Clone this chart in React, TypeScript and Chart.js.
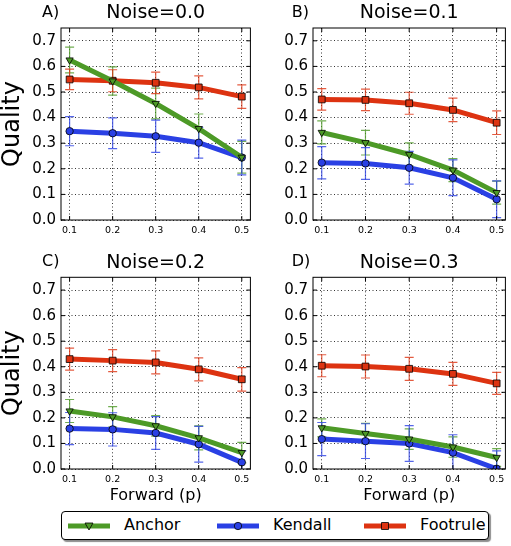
import React, { useEffect, useRef } from "react";
import { Chart, registerables } from "chart.js";

Chart.register(...registerables);
Chart.defaults.font.family = "'DejaVu Sans', sans-serif";
Chart.defaults.color = "#000";

// ---------- data ----------
const forwardP = [0.1, 0.2, 0.3, 0.4, 0.5];
const xTickValues = [0.1, 0.2, 0.3, 0.4, 0.5];
const yTickValues = [0.0, 0.1, 0.2, 0.3, 0.4, 0.5, 0.6, 0.7];
const seriesNames = ["Anchor", "Kendall", "Footrule"];
const panelLetters = ["A)", "B)", "C)", "D)"];
const noiseLabels = ["Noise=0.0", "Noise=0.1", "Noise=0.2", "Noise=0.3"];

// Noise = 0.0
const anchorN00 = [0.625, 0.543, 0.455, 0.357, 0.245];
const anchorErrN00 = [0.05, 0.055, 0.06, 0.057, 0.062];
const kendallN00 = [0.347, 0.339, 0.327, 0.302, 0.244];
const kendallErrN00 = [0.057, 0.06, 0.063, 0.06, 0.068];
const footruleN00 = [0.549, 0.544, 0.536, 0.518, 0.482];
const footruleErrN00 = [0.04, 0.043, 0.042, 0.045, 0.046];

// Noise = 0.1
const anchorN01 = [0.342, 0.302, 0.256, 0.195, 0.107];
const anchorErrN01 = [0.045, 0.048, 0.045, 0.045, 0.045];
const kendallN01 = [0.224, 0.221, 0.204, 0.165, 0.081];
const kendallErrN01 = [0.063, 0.062, 0.064, 0.07, 0.072];
const footruleN01 = [0.471, 0.469, 0.456, 0.43, 0.38];
const footruleErrN01 = [0.042, 0.042, 0.043, 0.046, 0.046];

// Noise = 0.2
const anchorN02 = [0.227, 0.204, 0.169, 0.122, 0.064];
const anchorErrN02 = [0.045, 0.04, 0.04, 0.047, 0.04];
const kendallN02 = [0.158, 0.155, 0.141, 0.097, 0.026];
const kendallErrN02 = [0.063, 0.065, 0.064, 0.07, 0.045];
const footruleN02 = [0.43, 0.424, 0.417, 0.39, 0.351];
const footruleErrN02 = [0.043, 0.043, 0.045, 0.045, 0.046];

// Noise = 0.3
const anchorN03 = [0.161, 0.139, 0.117, 0.086, 0.045];
const anchorErrN03 = [0.035, 0.04, 0.04, 0.04, 0.035];
const kendallN03 = [0.117, 0.109, 0.1, 0.064, 0.001];
const kendallErrN03 = [0.065, 0.068, 0.07, 0.07, 0.07];
const footruleN03 = [0.404, 0.401, 0.392, 0.372, 0.335];
const footruleErrN03 = [0.043, 0.045, 0.045, 0.045, 0.043];

const panelValues = [
  [anchorN00, kendallN00, footruleN00],
  [anchorN01, kendallN01, footruleN01],
  [anchorN02, kendallN02, footruleN02],
  [anchorN03, kendallN03, footruleN03],
];
const panelErrors = [
  [anchorErrN00, kendallErrN00, footruleErrN00],
  [anchorErrN01, kendallErrN01, footruleErrN01],
  [anchorErrN02, kendallErrN02, footruleErrN02],
  [anchorErrN03, kendallErrN03, footruleErrN03],
];

// ---------- styles ----------
const seriesColors = ["#4d9a27", "#2a40e4", "#dd3311"];
const seriesErrColors = ["rgba(77,154,39,0.8)", "rgba(42,64,228,0.8)", "rgba(221,51,17,0.8)"];
const seriesPointStyle = ["triangle", "circle", "rect"];
const seriesPointRadius = [4.2, 3.7, 4.8];
const seriesPointRotation = [180, 0, 0];

const FONT = "'DejaVu Sans', sans-serif";

const layouts = [
  { left: 0, top: 0, width: 256, height: 250, axisLeft: 61, padRight: 1, titlePad: { top: 2, bottom: 3.2 }, xAxisH: 30, yTitle: true, xTitle: false, letterX: 42, letterY: 13 },
  { left: 256, top: 0, width: 255, height: 250, axisLeft: 57, padRight: 2.5, titlePad: { top: 2, bottom: 3.2 }, xAxisH: 30, yTitle: false, xTitle: false, letterX: 35.7, letterY: 13 },
  { left: 0, top: 250, width: 256, height: 259, axisLeft: 61, padRight: 1, titlePad: { top: 1.5, bottom: 3 }, xAxisH: 40, yTitle: true, xTitle: true, letterX: 42, letterY: 11.7 },
  { left: 256, top: 250, width: 255, height: 259, axisLeft: 57, padRight: 2.5, titlePad: { top: 1.5, bottom: 3 }, xAxisH: 40, yTitle: false, xTitle: true, letterX: 35.7, letterY: 11.7 },
];

const errorBarPlugin = {
  id: "errorBars",
  beforeDatasetsDraw(chart: any) {
    const { ctx, chartArea, scales } = chart;
    ctx.save();
    ctx.beginPath();
    ctx.rect(chartArea.left, chartArea.top, chartArea.right - chartArea.left, chartArea.bottom - chartArea.top);
    ctx.clip();
    chart.data.datasets.forEach((ds: any) => {
      ctx.strokeStyle = ds.errColor;
      ctx.lineWidth = 1.2;
      ds.data.forEach((pt: any, j: number) => {
        const e = ds.errors[j];
        const x = scales.x.getPixelForValue(pt.x);
        const y1 = scales.y.getPixelForValue(pt.y + e);
        const y2 = scales.y.getPixelForValue(pt.y - e);
        ctx.beginPath();
        ctx.moveTo(x, y1);
        ctx.lineTo(x, y2);
        ctx.moveTo(x - 4.5, y1);
        ctx.lineTo(x + 4.5, y1);
        ctx.moveTo(x - 4.5, y2);
        ctx.lineTo(x + 4.5, y2);
        ctx.stroke();
      });
    });
    ctx.restore();
  },
};

const framePlugin = {
  id: "frame",
  afterDraw(chart: any) {
    const { ctx, chartArea, scales } = chart;
    const opts = chart.options.plugins.frame || {};
    ctx.save();
    ctx.strokeStyle = "#000";
    ctx.lineWidth = 1;
    ctx.strokeRect(chartArea.left, chartArea.top, chartArea.right - chartArea.left, chartArea.bottom - chartArea.top);
    ctx.beginPath();
    xTickValues.forEach((v) => {
      const x = scales.x.getPixelForValue(v);
      ctx.moveTo(x, chartArea.bottom);
      ctx.lineTo(x, chartArea.bottom - 4);
      ctx.moveTo(x, chartArea.top);
      ctx.lineTo(x, chartArea.top + 4);
    });
    yTickValues.forEach((v) => {
      const y = scales.y.getPixelForValue(v);
      ctx.moveTo(chartArea.left, y);
      ctx.lineTo(chartArea.left + 4, y);
      ctx.moveTo(chartArea.right, y);
      ctx.lineTo(chartArea.right - 4, y);
    });
    ctx.stroke();
    if (opts.letter) {
      ctx.fillStyle = "#000";
      ctx.font = `16px ${FONT}`;
      ctx.textBaseline = "middle";
      ctx.textAlign = "left";
      ctx.fillText(opts.letter, opts.letterX, opts.letterY);
    }
    ctx.restore();
  },
};

function makeConfig(p: number): any {
  const L = layouts[p];
  const datasets = seriesNames.map((name, s) => ({
    label: name,
    data: forwardP.map((x, j) => ({ x, y: panelValues[p][s][j] })),
    errors: panelErrors[p][s],
    errColor: seriesErrColors[s],
    borderColor: seriesColors[s],
    backgroundColor: seriesColors[s],
    borderWidth: 5,
    pointStyle: seriesPointStyle[s],
    pointRadius: seriesPointRadius[s],
    pointRotation: seriesPointRotation[s],
    pointBackgroundColor: seriesColors[s],
    pointBorderColor: "#000",
    pointBorderWidth: 0.8,
    tension: 0,
    clip: 0,
  }));
  return {
    type: "line",
    data: { datasets },
    options: {
      animation: false,
      responsive: false,
      events: [],
      layout: { padding: { left: 0, top: 0, right: L.padRight, bottom: 0 } },
      plugins: {
        legend: { display: false },
        tooltip: { enabled: false },
        title: {
          display: true,
          text: noiseLabels[p],
          fullSize: false,
          color: "#000",
          font: { size: 19, weight: "normal", family: FONT, lineHeight: 1.2 },
          padding: L.titlePad,
        },
        frame: { letter: panelLetters[p], letterX: L.letterX, letterY: L.letterY },
      },
      scales: {
        x: {
          type: "linear",
          min: 0.08,
          max: 0.52,
          z: 1,
          afterBuildTicks: (scale: any) => {
            scale.ticks = xTickValues.map((v) => ({ value: v }));
          },
          afterFit: (scale: any) => {
            scale.height = L.xAxisH;
          },
          grid: { color: "#000", lineWidth: 0.8, drawTicks: false },
          border: { display: false, dash: [1, 2.5] },
          ticks: {
            color: "#000",
            font: { size: 9.5, family: FONT },
            padding: 5,
            maxRotation: 0,
            autoSkip: false,
            callback: (v: any) => Number(v).toFixed(1),
          },
          title: {
            display: L.xTitle,
            text: "Forward (p)",
            color: "#000",
            font: { size: 16, family: FONT, lineHeight: 1.2 },
            padding: { top: 0, bottom: 4 },
          },
        },
        y: {
          type: "linear",
          min: 0,
          max: 0.75,
          z: 1,
          afterBuildTicks: (scale: any) => {
            scale.ticks = yTickValues.map((v) => ({ value: v }));
          },
          afterFit: (scale: any) => {
            scale.width = L.axisLeft;
          },
          grid: { color: "#000", lineWidth: 0.8, drawTicks: false },
          border: { display: false, dash: [1, 2.5] },
          ticks: {
            color: "#000",
            font: { size: 15, family: FONT },
            padding: 5,
            autoSkip: false,
            callback: (v: any) => Number(v).toFixed(1),
          },
          title: {
            display: L.yTitle,
            text: "Quality",
            color: "#000",
            font: { size: 24, family: FONT, lineHeight: 1.05 },
            padding: { top: 0.5, bottom: 0 },
          },
        },
      },
    },
    plugins: [errorBarPlugin, framePlugin],
  };
}

function Panel({ index }: { index: number }) {
  const ref = useRef<HTMLCanvasElement | null>(null);
  const L = layouts[index];
  useEffect(() => {
    if (!ref.current) return;
    const chart = new Chart(ref.current, makeConfig(index));
    return () => chart.destroy();
  }, [index]);
  return (
    <canvas
      ref={ref}
      width={L.width}
      height={L.height}
      style={{ position: "absolute", left: L.left, top: L.top, width: L.width, height: L.height }}
    />
  );
}

function LegendMarker({ s }: { s: number }) {
  const c = seriesColors[s];
  let marker: any = null;
  if (s === 0) {
    marker = <polygon points="17,4 25,4 21,11" fill={c} stroke="#000" strokeWidth={0.8} />;
  } else if (s === 1) {
    marker = <circle cx={21} cy={7} r={3.7} fill={c} stroke="#000" strokeWidth={0.8} />;
  } else {
    marker = <rect x={17.6} y={3.6} width={6.8} height={6.8} fill={c} stroke="#000" strokeWidth={0.8} />;
  }
  return (
    <svg width={42} height={14} style={{ display: "block" }}>
      <line x1={0} y1={7} x2={42} y2={7} stroke={c} strokeWidth={5} />
      {marker}
    </svg>
  );
}

const legendItemX = [{ line: 6, text: 62 }, { line: 155, text: 211 }, { line: 302, text: 358 }];

function Legend() {
  return (
    <div
      style={{
        position: "absolute",
        left: 61,
        top: 511,
        width: 428,
        height: 29,
        boxSizing: "border-box",
        border: "1px solid #000",
        borderRadius: 4,
        boxShadow: "2px 2px 1px rgba(0,0,0,0.45)",
        background: "#fff",
        fontFamily: FONT,
        fontSize: 16,
        color: "#000",
      }}
    >
      {seriesNames.map((name, s) => (
        <React.Fragment key={name}>
          <div style={{ position: "absolute", left: legendItemX[s].line, top: 6.5 }}>
            <LegendMarker s={s} />
          </div>
          <div style={{ position: "absolute", left: legendItemX[s].text, top: 3, lineHeight: "20px", whiteSpace: "nowrap" }}>
            {name}
          </div>
        </React.Fragment>
      ))}
    </div>
  );
}

export default function App() {
  return (
    <div style={{ position: "absolute", left: 0, top: 0, width: 511, height: 546, background: "#fff", overflow: "hidden" }}>
      {[0, 1, 2, 3].map((i) => (
        <Panel key={i} index={i} />
      ))}
      <Legend />
    </div>
  );
}
